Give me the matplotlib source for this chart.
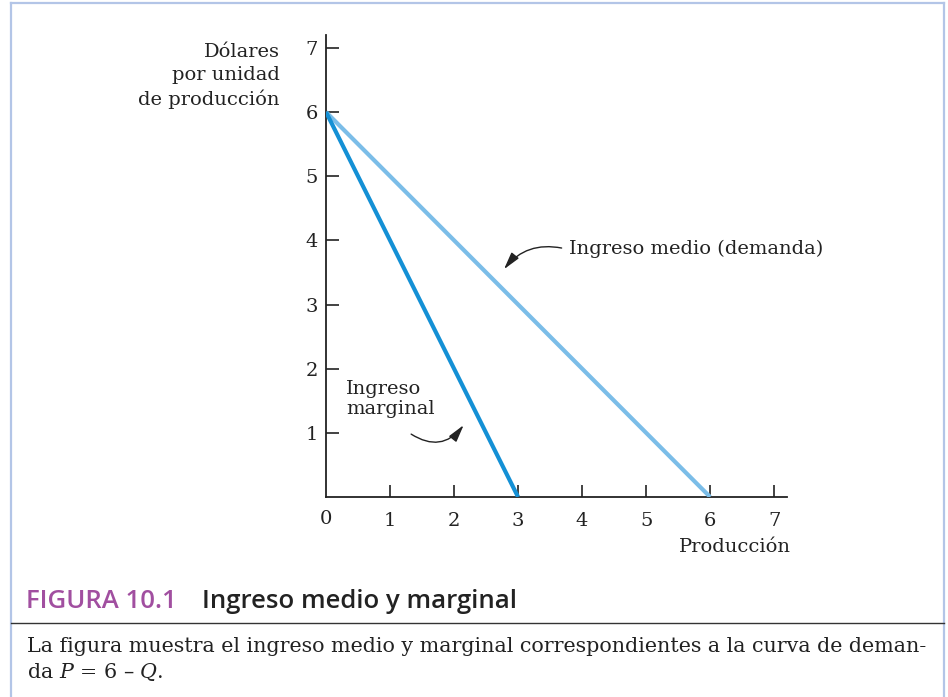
import matplotlib
matplotlib.use('Agg')
import matplotlib.pyplot as plt
from matplotlib.lines import Line2D

plt.rcParams['mathtext.fontset'] = 'dejavuserif'

# datos: P = 6 - Q, IM = 6 - 2Q
q_medio = [0, 6]
p_medio = [6, 0]
q_marginal = [0, 3]
p_marginal = [6, 0]
ticks = [1, 2, 3, 4, 5, 6, 7]

W, H = 948, 697
SERIF = ['DejaVu Serif']
SANS = ['Open Sans', 'DejaVu Sans']
INK = '#222222'

def fx(x): return x / W
def fy(y): return 1 - y / H

fig = plt.figure(figsize=(W / 100, H / 100), dpi=100)
ax = fig.add_axes([fx(326), fy(497), (787 - 326) / W, (497 - 35) / H])

c_medio, c_marg = '#7bbde8', '#1490d5'
ax.plot(q_medio, p_medio, color=c_medio, lw=3.0, solid_capstyle='butt', zorder=3)
ax.plot(q_marginal, p_marginal, color=c_marg, lw=3.0, solid_capstyle='butt', zorder=4)

ax.set_xlim(0, 7.2)
ax.set_ylim(0, 7.2)
for s in ['top', 'right']:
    ax.spines[s].set_visible(False)
for s in ['left', 'bottom']:
    ax.spines[s].set_linewidth(1.3)
    ax.spines[s].set_color(INK)
ax.set_xticks(ticks)
ax.set_yticks(ticks)
ax.set_xticklabels([str(t) for t in ticks], family=SERIF, fontsize=14)
ax.set_yticklabels([str(t) for t in ticks], family=SERIF, fontsize=14)
ax.tick_params(axis='x', direction='in', length=9, width=1.2, pad=11, colors=INK)
ax.tick_params(axis='y', direction='in', length=9, width=1.2, pad=6, colors=INK)
ax.text(0, -0.34, '0', ha='center', va='center', family=SERIF, fontsize=14, color=INK)

# anotaciones
arrow = dict(arrowstyle='-|>,head_length=0.75,head_width=0.2', color=INK, lw=1,
             mutation_scale=14, shrinkA=0, shrinkB=0)
ax.text(3.8, 3.87, 'Ingreso medio (demanda)', ha='left', va='center',
        family=SERIF, fontsize=14, color=INK)
ax.annotate('', xy=(2.78, 3.55), xytext=(3.68, 3.88),
            arrowprops=dict(arrow, connectionstyle='arc3,rad=0.3'))
ax.text(0.31, 1.53, 'Ingreso\nmarginal', ha='left', va='center', linespacing=1.13,
        family=SERIF, fontsize=14, color=INK)
ax.annotate('', xy=(2.15, 1.12), xytext=(1.33, 0.98),
            arrowprops=dict(arrow, connectionstyle='arc3,rad=0.45'))

# etiquetas de ejes
fig.text(fx(280), fy(76), 'Dólares\npor unidad\nde producción', ha='right', va='center',
         linespacing=1.36, family=SERIF, fontsize=14, color=INK)
fig.text(fx(735), fy(547), 'Producción', ha='center', va='center',
         family=SERIF, fontsize=14, color=INK)

# marco
frame = '#b3c5e7'
fig.add_artist(Line2D([fx(11), fx(11)], [fy(3), 0], color=frame, lw=1.6))
fig.add_artist(Line2D([fx(11), fx(944)], [fy(3), fy(3)], color=frame, lw=1.6))
fig.add_artist(Line2D([fx(944), fx(944)], [fy(3), 0], color=frame, lw=1.6))
fig.add_artist(Line2D([fx(11), fx(944)], [fy(623), fy(623)], color='#333333', lw=1))

# título y pie
fig.text(fx(26), fy(602), 'FIGURA 10.1', ha='left', va='center',
         family=SANS, fontsize=18.5, fontweight='semibold', color='#a14fa0')
fig.text(fx(202), fy(602), 'Ingreso medio y marginal', ha='left', va='center',
         family=SANS, fontsize=18.5, fontweight='semibold', color=INK)
fig.text(fx(27), fy(647), 'La figura muestra el ingreso medio y marginal correspondientes a la curva de deman-',
         ha='left', va='center', family=SERIF, fontsize=14.9, color=INK)
fig.text(fx(27), fy(672), 'da $P$ = 6 – $Q$.', ha='left', va='center',
         family=SERIF, fontsize=14.9, color=INK)

fig.savefig('out.png', dpi=100)
